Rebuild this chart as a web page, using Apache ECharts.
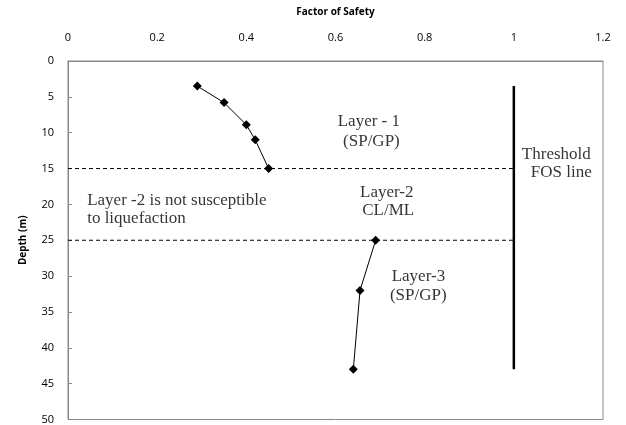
<!DOCTYPE html>
<html><head><meta charset="utf-8">
<script src="https://cdn.jsdelivr.net/npm/echarts@6/dist/echarts.min.js"></script>
<style>html,body{margin:0;padding:0;background:#fff}#c{width:626px;height:425px}</style>
</head><body><div id="c"></div>
<script>
// Layer-1 and Layer-3 points (null separates the two layers)
const fosValues = [0.29, 0.35, 0.40, 0.42, 0.45, null, 0.69, 0.655, 0.64];
const depthValues = [3.5, 5.8, 8.9, 11, 15, null, 25, 32, 43];
const thresholdFos = [1, 1];
const thresholdDepth = [3.5, 43];
const layerBoundaries = [15, 25];
const xTicks = [0, 0.2, 0.4, 0.6, 0.8, 1, 1.2];
const yTicks = [0, 5, 10, 15, 20, 25, 30, 35, 40, 45, 50];
const annotTexts = ['Layer - 1', '(SP/GP)', 'Threshold', 'FOS line', 'Layer -2 is not susceptible', 'to liquefaction', 'Layer-2', 'CL/ML', 'Layer-3', '(SP/GP)'];
const annotX = [0.605, 0.617, 1.018, 1.038, 0.043, 0.043, 0.655, 0.66, 0.726, 0.722];
const annotY = [8.5, 11.3, 13.1, 15.6, 19.5, 22.0, 18.4, 20.9, 30.1, 32.7];

const chart = echarts.init(document.getElementById('c'));
const series = [];
series.push({
  type: 'line', data: fosValues.map((v, i) => (v === null ? [null, null] : [v, depthValues[i]])),
  connectNulls: false,
  symbol: 'diamond', symbolSize: 9, itemStyle: {color: '#000'},
  lineStyle: {color: '#000', width: 1}, z: 5
});
series.push({
  type: 'line', data: thresholdFos.map((v, i) => [v, thresholdDepth[i]]),
  symbol: 'none', lineStyle: {color: '#000', width: 2.5}
});
layerBoundaries.forEach(d => {
  series.push({
    type: 'line', data: [[xTicks[0], d], [thresholdFos[0], d]], symbol: 'none',
    lineStyle: {color: '#000', width: 1, type: [4, 3]}
  });
});
series.push({
  type: 'scatter', symbolSize: 0,
  data: annotTexts.map((t, i) => ({value: [annotX[i], annotY[i]], name: t})),
  label: {show: true, position: 'right', distance: 0, formatter: p => p.name,
    fontFamily: 'Liberation Serif', fontSize: 17, color: '#000'},
  silent: true
});

chart.setOption({
  animation: false,
  grid: {left: 68, right: 23, top: 61, bottom: 4, show: true, borderColor: '#888', borderWidth: 1},
  xAxis: {
    type: 'value', position: 'top', min: 0, max: 1.2, interval: 0.2,
    name: 'Factor of Safety', nameLocation: 'middle', nameGap: 44,
    nameTextStyle: {fontFamily: 'Open Sans', fontWeight: 'bold', fontSize: 10, color: '#000'},
    axisLine: {show: true, lineStyle: {color: '#888'}},
    axisTick: {show: false}, splitLine: {show: false},
    axisLabel: {fontFamily: 'Open Sans', fontSize: 11, color: '#000', margin: 18}
  },
  yAxis: {
    type: 'value', inverse: true, min: 0, max: 50, interval: 5,
    name: 'Depth (m)', nameLocation: 'middle', nameGap: 40,
    nameTextStyle: {fontFamily: 'Open Sans', fontWeight: 'bold', fontSize: 10, color: '#000'},
    axisLine: {show: true, lineStyle: {color: '#888'}},
    axisTick: {show: true, inside: true, length: 4, lineStyle: {color: '#888'}},
    splitLine: {show: false},
    axisLabel: {fontFamily: 'Open Sans', fontSize: 11, color: '#000', margin: 14}
  },
  series: series
});
</script></body></html>
